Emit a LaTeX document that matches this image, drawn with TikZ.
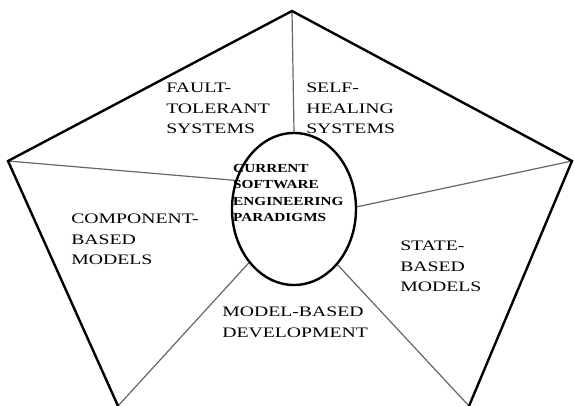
\documentclass[tikz,border=0pt]{standalone}
\usepackage{fontspec}
\setmainfont{Liberation Serif}
\usetikzlibrary{shapes.geometric}
\pgfdeclarelayer{background}
\pgfsetlayers{background,main}
\begin{document}
\begin{tikzpicture}[x=1pt,y=-1pt,
  outer/.style={line width=2.4pt, line join=miter, black},
  inner/.style={line width=1.2pt, black!60},
  hub/.style={draw, ellipse, line width=2.4pt, minimum width=124pt, minimum height=152pt, inner sep=0pt},
  lbl/.style={anchor=north west, inner sep=0pt, align=left, xscale=1.36, font=\fontsize{14.5}{20.5}\selectfont},
  core/.style={anchor=north west, inner sep=0pt, align=left, xscale=1.24, font=\bfseries\fontsize{12.3}{16.5}\selectfont}]
\useasboundingbox (0,0) rectangle (574,406);
\coordinate (T) at (292,11);
\coordinate (L) at (8,161);
\coordinate (R) at (572,161);
\coordinate (BL) at (118,406);
\coordinate (BR) at (469,406);
\node[hub] (E) at (294,209) {};
\draw[outer] (BL) -- (L) -- (T) -- (R) -- (BR);
\begin{pgfonlayer}{background}
\draw[inner] (T) -- (E.90);
\draw[inner] (L) -- (E.154);
\draw[inner] (R) -- (E.2);
\draw[inner] (BL) -- (E.230);
\draw[inner] (BR) -- (E.308);
\end{pgfonlayer}
\node[lbl] (ft) at (166,83) {FAULT-\\TOLERANT\\SYSTEMS};
\node[lbl] (sh) at (306,83) {SELF-\\HEALING\\SYSTEMS};
\node[lbl] (cb) at (71,214) {COMPONENT-\\BASED\\MODELS};
\node[lbl] (sb) at (400,241) {STATE-\\BASED\\MODELS};
\node[lbl] (mb) at (222,307) {MODEL-BASED\\DEVELOPMENT};
\node[core] (cs) at (233,164) {CURRENT\\SOFTWARE\\ENGINEERING\\PARADIGMS};
\end{tikzpicture}
\end{document}
